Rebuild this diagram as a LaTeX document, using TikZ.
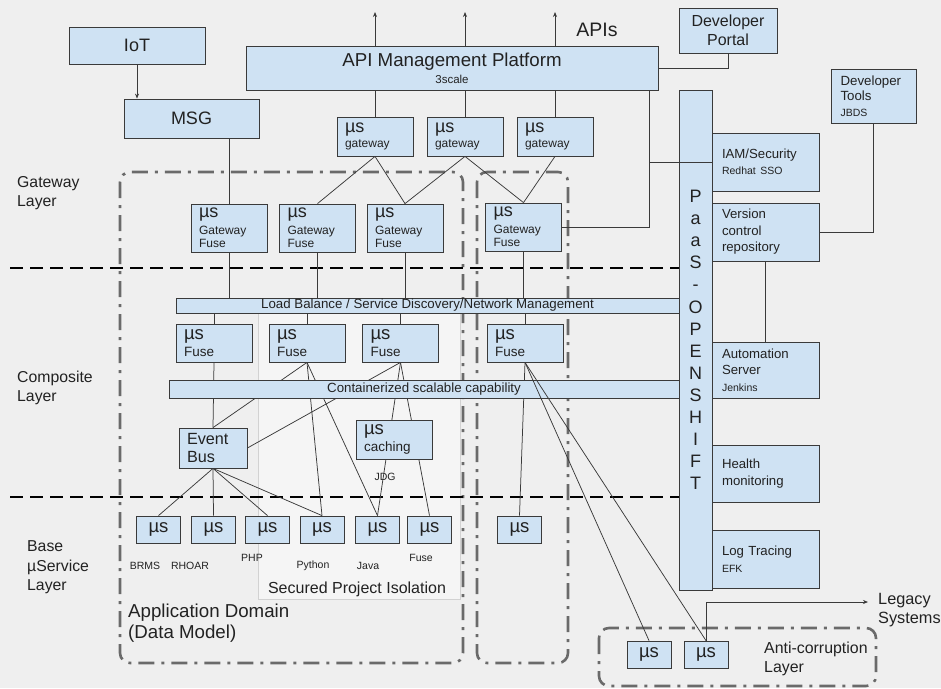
\documentclass[tikz,border=0pt]{standalone}
\usepackage{fontspec}
\setmainfont{Liberation Sans}
\usetikzlibrary{arrows.meta}

\definecolor{pagebg}{HTML}{EFEFEF}
\definecolor{boxfill}{HTML}{CFE2F3}
\definecolor{boxline}{HTML}{3A3A3A}
\definecolor{wirecol}{HTML}{3A3A3A}
\definecolor{regioncol}{HTML}{6A6A6A}
\definecolor{securefill}{HTML}{F5F5F5}
\definecolor{secureline}{HTML}{D2D2D2}
\definecolor{textcol}{HTML}{222222}

\pgfdeclarelayer{back}
\pgfdeclarelayer{wires}
\pgfsetlayers{back,wires,main}

\newcommand\usbig{\fontsize{18}{18}\selectfont}
\newcommand\usmid{\fontsize{18.5}{18.5}\selectfont}
\newcommand\ussmall{\fontsize{10.5}{11}\selectfont}

\tikzset{
    box/.style={draw=boxline, fill=boxfill, line width=0.8pt, inner sep=0pt, text=textcol},
    usbox/.style={box, align=left, inner xsep=8pt, text width=#1},
    side/.style={box, minimum width=107pt, text width=87pt, inner xsep=10pt, align=left,
        font=\fontsize{13.2}{16.5}\selectfont},
    wire/.style={draw=wirecol, line width=0.75pt},
    appregion/.style={draw=regioncol, line width=2.6pt, rounded corners=10pt,
        dash pattern=on 16pt off 7pt on 3pt off 7pt},
    layerline/.style={black, line width=2.6pt, dash pattern=on 13pt off 7pt},
    lbl/.style={text=textcol, inner sep=0pt},
}

\begin{document}
\begin{tikzpicture}[x=1pt, y=-1pt, >={Stealth[length=5pt,width=4pt]}]
    \useasboundingbox (0,0) rectangle (941,688);

    % page, regions and layer borders
    \begin{pgfonlayer}{back}
        \fill[pagebg] (0,0) rectangle (941,688);
        \draw[fill=securefill, draw=secureline, line width=0.8pt] (258,313) rectangle (460,599);
        \draw[appregion] (120,172) rectangle (463,663);
        \draw[appregion] (477,172) rectangle (568,663);
        \draw[appregion] (599,628) rectangle (876,686);
        \draw[layerline] (10,268) -- (679,268);
        \draw[layerline] (10,497) -- (679,497);
    \end{pgfonlayer}

    % top row
    \node[box, minimum width=136pt, minimum height=37pt, font=\fontsize{18}{18}\selectfont] (iot) at (137,45.5) {IoT};
    \node[box, minimum width=135pt, minimum height=39pt, font=\fontsize{18}{18}\selectfont] (msg) at (191.5,118.5) {MSG};
    \node[box, minimum width=412pt, minimum height=44pt, align=center, font=\fontsize{11.5}{12}\selectfont] (api) at (452,68)
        {{\fontsize{18.7}{19}\selectfont API Management Platform}\\[4pt]3scale};
    \node[lbl, font=\fontsize{19.5}{19.5}\selectfont] (apis) at (597,30) {APIs};
    \node[box, minimum width=98pt, minimum height=45pt, align=center, font=\fontsize{16}{19}\selectfont] (portal) at (728,30.5) {Developer\\Portal};
    \node[box, minimum width=85pt, minimum height=54pt, text width=66pt, inner xsep=9.5pt, align=left,
        font=\fontsize{13.3}{15.5}\selectfont] (tools) at (873.5,96) {Developer\\Tools\\{\ussmall JBDS}};
    \foreach \x [count=\i] in {375,465,555}
        \coordinate (up\i) at (\x,12);

    % gateway layer
    \foreach \x [count=\i] in {375,465,555}
        \node[usbox=60pt, minimum height=39pt, font=\fontsize{12}{13}\selectfont] (gw\i) at (\x,136.5) {{\usbig µs}\\[2pt]gateway};
    \foreach \x/\y [count=\i] in {229/228,317.5/228,405/228,523.5/227}
        \node[usbox=60pt, minimum height=48pt, font=\fontsize{12}{13}\selectfont] (gf\i) at (\x,\y) {{\usbig µs}\\[4pt]Gateway\\Fuse};
    \node[lbl, align=left, anchor=west, font=\fontsize{15.8}{18.5}\selectfont] (gwlayer) at (17,193) {Gateway\\Layer};

    % composite layer
    \node[box, minimum width=503pt, minimum height=15pt, font=\fontsize{13.3}{13}\selectfont] (lb) at (427.5,305.5)
        {Load Balance / Service Discovery/Network Management};
    \foreach \x [count=\i] in {214,307,400.5,525}
        \node[usbox=60pt, minimum height=38pt, font=\fontsize{13.5}{15}\selectfont] (fuse\i) at (\x,343) {{\usmid µs}\\[2pt]Fuse};
    \node[box, minimum width=510pt, minimum height=18pt, font=\fontsize{13.3}{13}\selectfont] (cont) at (424,389)
        {Containerized scalable capability};
    \node[box, minimum width=68pt, minimum height=40pt, text width=52pt, inner xsep=8pt, align=left,
        font=\fontsize{16.2}{18}\selectfont] (bus) at (213,448) {Event\\Bus};
    \node[usbox=60pt, minimum height=39pt, font=\fontsize{13.5}{15}\selectfont] (cache) at (394,439.5) {{\usmid µs}\\[2pt]caching};
    \node[lbl, font=\ussmall] (jdg) at (385,477) {JDG};
    \node[lbl, align=left, anchor=west, font=\fontsize{15.8}{18.5}\selectfont] (complayer) at (17,388) {Composite\\Layer};

    % base layer
    \foreach \x [count=\i] in {158.5,213.5,267.5,322,377.5,429.5}
        \node[box, minimum width=44pt, minimum height=27pt, font=\usmid] (base\i) at (\x,529.5) {µs};
    \node[box, minimum width=44pt, minimum height=27pt, font=\usmid] (base7) at (519.5,529.5) {µs};
    \foreach \x/\y/\t [count=\i] in {145/566/BRMS, 190/566/RHOAR, 252/558/PHP, 313/566/Python, 368/566/Java, 421/558/Fuse}
        \node[lbl, font=\ussmall] (lab\i) at (\x,\y) {\t};
    \node[lbl, font=\fontsize{16}{17}\selectfont] (secured) at (357,589) {Secured Project Isolation};
    \node[lbl, align=left, anchor=west, font=\fontsize{18.7}{21}\selectfont] (appdomain) at (128,623.5) {Application Domain\\(Data Model)};
    \node[lbl, align=left, anchor=west, font=\fontsize{15.8}{19.5}\selectfont] (baselayer) at (27,567.5) {Base\\µService\\Layer};

    % anti-corruption layer
    \node[box, minimum width=44pt, minimum height=27pt, font=\usmid] (acl1) at (649,654.5) {µs};
    \node[box, minimum width=44pt, minimum height=27pt, font=\usmid] (acl2) at (706,654.5) {µs};
    \node[lbl, align=left, anchor=west, font=\fontsize{15.9}{19}\selectfont] (acltext) at (764,658.5) {Anti-corruption\\Layer};
    \node[lbl, align=left, anchor=west, font=\fontsize{16.3}{19}\selectfont] (legacy) at (878,610.5) {Legacy\\Systems};
    \coordinate (legacyin) at (868,602);

    % platform column
    \node[box, minimum width=33pt, minimum height=500pt, align=center, font=\fontsize{18}{22.1}\selectfont] (paas) at (695.5,340)
        {P\\a\\a\\S\\-\\O\\P\\E\\N\\S\\H\\I\\F\\T};
    \node[side, minimum height=58pt] (iam) at (765.5,162) {IAM/Security\\{\ussmall Redhat SSO}};
    \node[side, minimum height=58pt] (vcs) at (765.5,232) {Version\\control\\repository};
    \node[side, minimum height=56pt] (auto) at (765.5,370) {Automation\\Server\\{\ussmall Jenkins}};
    \node[side, minimum height=57pt] (health) at (765.5,473.5) {Health\\monitoring};
    \node[side, minimum height=58pt] (log) at (765.5,559) {Log Tracing\\{\ussmall EFK}};
    \coordinate (apiout) at (649,90);

    % connectors
    \begin{pgfonlayer}{wires}
        \draw[wire, ->] (iot.south) -- (iot.south |- msg.north);
        \draw[wire] (msg.south -| gf1.north) -- (gf1.north);
        \foreach \i in {1,2,3} {
            \draw[wire, ->] (gw\i.north |- api.north) -- (up\i);
            \draw[wire] (gw\i.north |- api.south) -- (gw\i.north);
        }
        \draw[wire] (portal.south) |- (api.east);
        \draw[wire] (tools.south) |- (vcs.east);
        \draw[wire] (vcs.south) -- (vcs.south |- auto.north);
        \draw[wire] (apiout) |- (gf4.east);
        \draw[wire] (gw1.south) -- (gf2.north);
        \draw[wire] (gw1.south) -- (gf3.north);
        \draw[wire] (gw2.south) -- (gf3.north);
        \draw[wire] (gw2.south) -- (gf4.north);
        \draw[wire] (gw3.south) -- (gf4.north);
        \foreach \i in {1,...,4} {
            \draw[wire] (gf\i.south) -- (gf\i.south |- lb.north);
            \draw[wire] (fuse\i.north |- lb.south) -- (fuse\i.north);
        }
        \draw[wire] (fuse1.south) -- (bus.north);
        \draw[wire] (fuse2.south) -- (bus.north);
        \draw[wire] (fuse2.south) -- (base4.north);
        \draw[wire] (fuse2.south) -- (base5.north);
        \draw[wire] (fuse3.south) -- (bus.east);
        \draw[wire] (fuse3.south) -- (base5.north);
        \draw[wire] (fuse3.south) -- (base6.north);
        \foreach \i in {1,...,4}
            \draw[wire] (bus.south) -- (base\i.north);
        \draw[wire] (fuse4.south) -- (base7.north);
        \draw[wire, ->] (acl2.north) |- (legacyin);
    \end{pgfonlayer}
    \draw[wire] (apiout |- iam.west) -- (iam.west);
    \draw[wire] (fuse4.south) -- (acl1.north);
    \draw[wire] (fuse4.south) -- (acl2.north);
\end{tikzpicture}
\end{document}
